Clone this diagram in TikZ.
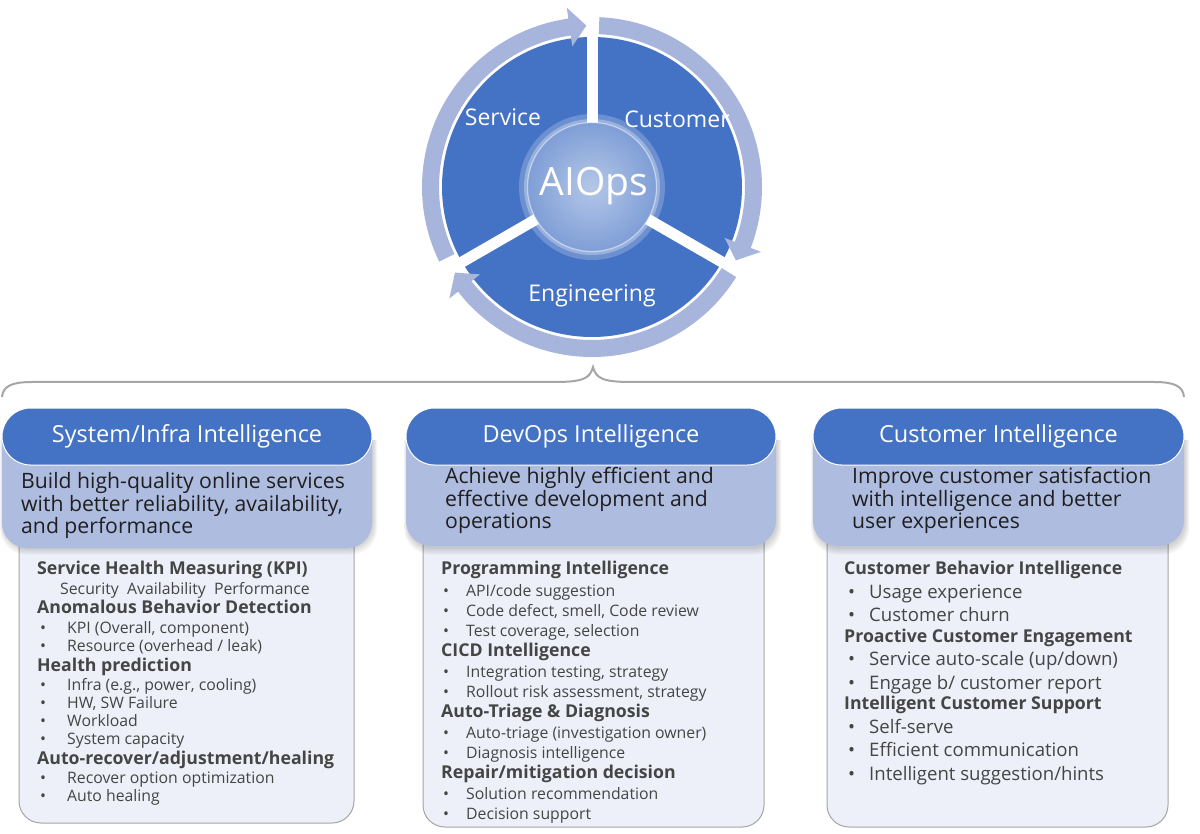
\documentclass[tikz,border=0pt]{standalone}
\usepackage{fontspec}
\setmainfont{Open Sans}
\IfFontExistsTF{Open Sans SemiBold}{\newfontfamily\hdfont{Open Sans SemiBold}\newcommand{\hdsize}{18.2}}{\newcommand{\hdfont}{\bfseries}\newcommand{\hdsize}{17.7}}
\definecolor{aiblue}{HTML}{4472C4}
\definecolor{ringblue}{HTML}{A7B5DC}
\definecolor{lightbox}{HTML}{AEBCE0}
\definecolor{contentfill}{HTML}{EDF0F8}
\definecolor{contentedge}{HTML}{A6A6A6}
\definecolor{txtgray}{HTML}{454545}
\definecolor{bracegray}{HTML}{A6A6A6}
\colorlet{hubA}{aiblue!40!white}
\colorlet{hubB}{aiblue!65!white}
\colorlet{hubC}{aiblue!88!white}
\pgfdeclareradialshading{aihub}{\pgfpoint{0bp}{0bp}}{color(0bp)=(hubA); color(22bp)=(hubB); color(42bp)=(hubC); color(50bp)=(hubC)}
\newcommand{\ringarrow}[2]{%
  \pgfmathsetmacro{\hb}{#2+6}%
  \fill[ringblue] (#1:170) arc[start angle=#1, end angle=\hb, radius=170] -- (\hb:181) -- (#2:161.5) -- (\hb:142) -- (\hb:153) arc[start angle=\hb, end angle=#1, radius=153] -- cycle;}
\newcommand{\myhd}[4]{\node[hdline] (#1) at (#2,#3) {#4};}
\newcommand{\myit}[6][itline]{\node[#1] (#2d) at (#3,#5) {•}; \node[#1] (#2) at (#4,#5) {#6};}
\newcommand{\mydesc}[4]{\node[desc] (#1) at (#2,#3) {#4};}
\tikzset{
  tb/.style={inner sep=0pt, text height=1.2em, text depth=.1em},
  pill/.style={tb, fill=aiblue, draw=white, line width=1pt, rounded corners=28.5pt, minimum height=57pt, text=white, font=\fontsize{23.5}{26}\selectfont},
  circlabel/.style={tb, text=white, font=\fontsize{23}{26}\selectfont},
  hublabel/.style={tb, text=white, font=\fontsize{39}{42}\selectfont},
  desc/.style={tb, anchor=west, text=black!88, font=\fontsize{21.2}{23}\selectfont},
  hdline/.style={tb, anchor=west, text=txtgray, font=\fontsize{\hdsize}{20}\selectfont\hdfont},
  itline/.style={tb, anchor=west, text=txtgray, font=\fontsize{15.8}{18}\selectfont},
  itbig/.style={itline, font=\fontsize{18.6}{20}\selectfont},
  contentbox/.style={draw=contentedge, fill=contentfill, line width=1pt, rounded corners=22pt},
  shade1/.style={fill=black, opacity=0.045, rounded corners=26pt},
}
\begin{document}
\begin{tikzpicture}[x=1pt,y=-1pt]
\useasboundingbox (0,0) rectangle (1200,834);
\fill[white] (0,0) rectangle (1200,834);

% ---------- cycle ----------
\coordinate (hub) at (592,187);
\begin{scope}[shift={(hub)}, y=1pt]
  \fill[aiblue] (0,0) circle (150);
  \foreach \ang in {90,210,330} \draw[white, line width=11pt] (0,0) -- (\ang:152);
  \ringarrow{206}{92}
  \ringarrow{87.5}{-27}
  \ringarrow{-32}{-148}
  \fill[white, opacity=0.22] (0,0) circle (73);
  \fill[white, opacity=0.3] (0,0) circle (68);
  \shade[shading=aihub] (0,0) circle (64.5);
  \draw[white, opacity=0.5, line width=1.2pt] (0,0) circle (64.5);
\end{scope}
\node[circlabel] (svc) at (503,120) {Service};
\node[circlabel] (cus) at (677,122) {Customer};
\node[circlabel] (eng) at (592,296) {Engineering};
\node[hublabel] (aiops) at (594,190) {AIOps};

% ---------- brace ----------
\coordinate (brL) at (2,397);
\coordinate (brR) at (1184,397);
\coordinate (brT) at (593,367);
\draw[bracegray, line width=2pt]
  (brL) .. controls (3,386) and (12,382) .. (32,382) -- (555,382)
  .. controls (584,382) and (590,378) .. (brT)
  .. controls (596,378) and (602,382) .. (631,382) -- (1154,382)
  .. controls (1174,382) and (1183,386) .. (brR);

% ---------- content boxes ----------
\draw[contentbox] (19,520) rectangle (354,823);
\draw[contentbox] (423,520) rectangle (764,827);
\draw[contentbox] (827,520) rectangle (1168,827);

% ---------- shadows + light boxes ----------
\begin{scope}
  \clip (0,440) rectangle (1200,600);
  \foreach \xa/\xb in {2/372, 406/776, 813/1184} {
    \foreach \s in {1,3,5,7} {
      \fill[shade1] ({\xa-\s*0.4+1},400) rectangle ({\xb+\s*0.6+1},{548+\s*0.9});
    }
  }
\end{scope}
\begin{scope}
  \clip (0,437) rectangle (1200,600);
  \fill[lightbox, rounded corners=25pt] (2,400) rectangle (372,548);
  \fill[lightbox, rounded corners=25pt] (406,400) rectangle (776,546);
  \fill[lightbox, rounded corners=25pt] (813,400) rectangle (1184,546);
\end{scope}

% ---------- headers ----------
\node[pill, minimum width=370pt] (h1) at (187,436.5) {System/Infra Intelligence};
\node[pill, minimum width=370pt] (h2) at (591,436.5) {DevOps Intelligence};
\node[pill, minimum width=371pt] (h3) at (998.5,436.5) {Customer Intelligence};

% ---------- descriptions ----------
\mydesc{d1a}{21}{483}{Build high-quality online services}
\mydesc{d1b}{21}{505.5}{with better reliability, availability,}
\mydesc{d1c}{21}{528}{and performance}
\mydesc{d2a}{445}{478}{Achieve highly efficient and}
\mydesc{d2b}{445}{500.5}{effective development and}
\mydesc{d2c}{445}{523}{operations}
\mydesc{d3a}{852}{478}{Improve customer satisfaction}
\mydesc{d3b}{852}{500.5}{with intelligence and better}
\mydesc{d3c}{852}{523}{user experiences}

% ---------- column 1 ----------
\myhd{a1}{37}{569}{Service Health Measuring (KPI)}
\node[itline] (a1s) at (60,589) {Security\ \ Availability\ \ Performance};
\myhd{a2}{37}{608}{Anomalous Behavior Detection}
\myit{a21}{40}{67}{628}{KPI (Overall, component)}
\myit{a22}{40}{67}{646}{Resource (overhead / leak)}
\myhd{a3}{37}{666}{Health prediction}
\myit{a31}{40}{67}{685}{Infra (e.g., power, cooling)}
\myit{a32}{40}{67}{703}{HW, SW Failure}
\myit{a33}{40}{67}{721}{Workload}
\myit{a34}{40}{67}{739}{System capacity}
\myhd{a4}{37}{759}{Auto-recover/adjustment/healing}
\myit{a41}{40}{67}{778}{Recover option optimization}
\myit{a42}{40}{67}{796}{Auto healing}

% ---------- column 2 ----------
\myhd{b1}{441}{569}{Programming Intelligence}
\myit{b11}{443}{466}{591}{API/code suggestion}
\myit{b12}{443}{466}{611}{Code defect, smell, Code review}
\myit{b13}{443}{466}{631}{Test coverage, selection}
\myhd{b2}{441}{651}{CICD Intelligence}
\myit{b21}{443}{466}{672}{Integration testing, strategy}
\myit{b22}{443}{466}{692}{Rollout risk assessment, strategy}
\myhd{b3}{441}{712}{Auto-Triage \& Diagnosis}
\myit{b31}{443}{466}{733}{Auto-triage (investigation owner)}
\myit{b32}{443}{466}{753}{Diagnosis intelligence}
\myhd{b4}{441}{773}{Repair/mitigation decision}
\myit{b41}{443}{466}{794}{Solution recommendation}
\myit{b42}{443}{466}{814}{Decision support}

% ---------- column 3 ----------
\myhd{c1}{844}{569}{Customer Behavior Intelligence}
\myit[itbig]{c11}{848}{869}{593}{Usage experience}
\myit[itbig]{c12}{848}{869}{616}{Customer churn}
\myhd{c2}{844}{637}{Proactive Customer Engagement}
\myit[itbig]{c21}{848}{869}{660}{Service auto-scale (up/down)}
\myit[itbig]{c22}{848}{869}{684}{Engage b/ customer report}
\myhd{c3}{844}{704}{Intelligent Customer Support}
\myit[itbig]{c31}{848}{869}{728}{Self-serve}
\myit[itbig]{c32}{848}{869}{751}{Efficient communication}
\myit[itbig]{c33}{848}{869}{775}{Intelligent suggestion/hints}
\end{tikzpicture}
\end{document}
